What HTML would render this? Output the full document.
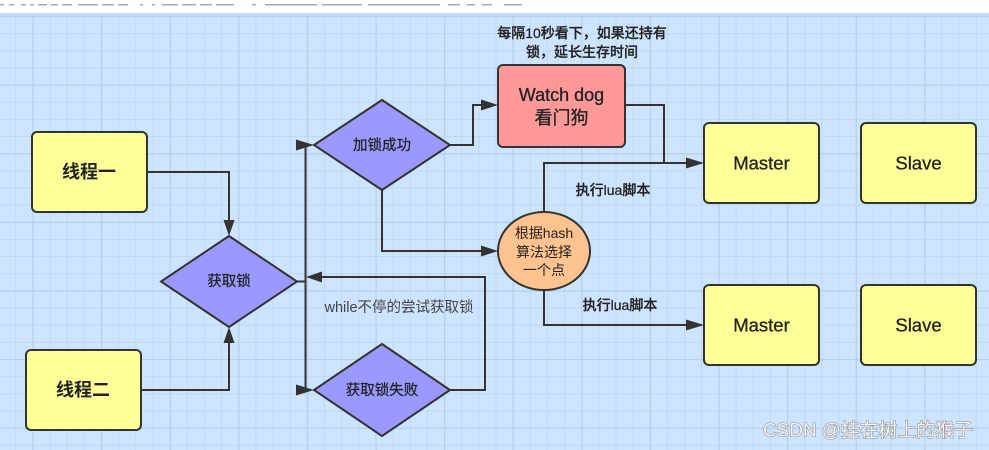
<!DOCTYPE html>
<html>
<head>
<meta charset="utf-8">
<style>
html,body{margin:0;padding:0;width:989px;height:450px;overflow:hidden;background:#fff;}
svg{display:block;}
text{font-family:"Liberation Sans","Noto Sans CJK SC",sans-serif;}
</style>
</head>
<body>
<svg width="989" height="450" viewBox="0 0 989 450" xmlns="http://www.w3.org/2000/svg">
  <defs>
    <pattern id="minor" x="15.3" y="16" width="17.15" height="17.15" patternUnits="userSpaceOnUse">
      <rect x="0" y="0" width="17.15" height="1" fill="#bfd7f2"/>
      <rect x="0" y="0" width="1" height="17.15" fill="#bfd7f2"/>
    </pattern>
    <pattern id="major" x="32.45" y="16" width="68.6" height="68.6" patternUnits="userSpaceOnUse">
      <rect x="0" y="0" width="68.6" height="1.2" fill="#b6cfec"/>
      <rect x="0" y="0" width="1.2" height="68.6" fill="#b6cfec"/>
    </pattern>
  </defs>

  <!-- top white strip with faint cut-off text -->
  <rect x="0" y="0" width="989" height="13" fill="#ffffff"/>
  <g fill="#aaaaaa">
    <rect x="0" y="4" width="4" height="1.5"/><rect x="9" y="4" width="5" height="1.5"/>
    <rect x="21" y="4" width="5" height="1.5"/><rect x="30" y="4" width="4" height="1.5"/>
    <rect x="38" y="4" width="9" height="1.5"/><rect x="51" y="4" width="7" height="1.5"/>
    <rect x="62" y="4" width="10" height="1.5"/><rect x="78" y="4" width="20" height="1.5"/>
    <rect x="102" y="4" width="12" height="1.5"/><rect x="118" y="4" width="10" height="1.5"/>
    <rect x="140" y="4" width="3" height="1.5"/><rect x="152" y="4" width="3" height="1.5"/>
    <rect x="162" y="4" width="16" height="1.5"/><rect x="182" y="4" width="14" height="1.5"/>
    <rect x="200" y="4" width="12" height="1.5"/><rect x="216" y="4" width="18" height="1.5"/>
    <rect x="252" y="4" width="4" height="1.5"/><rect x="265" y="4" width="52" height="1.5"/>
    <rect x="322" y="4" width="40" height="1.5"/><rect x="368" y="4" width="72" height="1.5"/>
    <rect x="448" y="4" width="12" height="1.5"/><rect x="467" y="4" width="8" height="1.5"/>
    <rect x="482" y="4" width="10" height="1.5"/><rect x="504" y="4" width="18" height="1.5"/>
  </g>
  <!-- border band -->
  <rect x="0" y="13" width="989" height="3" fill="#c3dbf5"/>
  <!-- grid area -->
  <rect x="0" y="16" width="989" height="434" fill="#cde4fe"/>
  <rect x="0" y="16" width="989" height="434" fill="url(#minor)"/>
  <rect x="0" y="16" width="989" height="434" fill="url(#major)"/>

  <!-- connectors -->
  <g fill="none" stroke="#333" stroke-width="2" stroke-linejoin="miter">
    <path d="M147,172 H229 V222"/>
    <path d="M141,390 H229 V341"/>
    <path d="M297,281.5 H305.5"/>
    <path d="M305.5,145 V390"/>
    <path d="M450,390 H485 V277 H320"/>
    <path d="M450,145 H473 V105 H484"/>
    <path d="M382,190 V251 H484"/>
    <path d="M625,105 H664 V163 H690"/>
    <path d="M544,212 V163 H664"/>
    <path d="M544,290 V325 H690"/>
  </g>
  <!-- arrowheads -->
  <g fill="#333">
    <polygon points="223.5,220 234.5,220 229,236"/>
    <polygon points="223.5,343 234.5,343 229,327"/>
    <polygon points="296,139.5 314,145 296,150.5"/>
    <polygon points="296,384.5 314,390 296,395.5"/>
    <polygon points="322,271.5 306,277 322,282.5"/>
    <polygon points="481,99.5 498,105 481,110.5"/>
    <polygon points="481,245.5 498,251 481,256.5"/>
    <polygon points="686,157.5 704,163 686,168.5"/>
    <polygon points="686,319.5 704,325 686,330.5"/>
  </g>

  <!-- 线程一 / 线程二 -->
  <rect x="32" y="132" width="115" height="80" rx="5" fill="#ffff99" stroke="#333" stroke-width="2"/>
  <text x="89" y="172" font-size="18" font-weight="bold" fill="#222" text-anchor="middle" dominant-baseline="central">线程一</text>
  <rect x="26" y="350" width="115" height="80" rx="5" fill="#ffff99" stroke="#333" stroke-width="2"/>
  <text x="83" y="390" font-size="18" font-weight="bold" fill="#222" text-anchor="middle" dominant-baseline="central">线程二</text>

  <!-- diamonds -->
  <polygon points="229,236 297,281.5 229,327 161,281.5" fill="#9999ff" stroke="#333" stroke-width="2"/>
  <text x="229" y="282" font-size="14.5" fill="#222" stroke="#222" stroke-width="0.25" text-anchor="middle" dominant-baseline="central">获取锁</text>
  <polygon points="382,100 450,145 382,190 314,145" fill="#9999ff" stroke="#333" stroke-width="2"/>
  <text x="382" y="146" font-size="14.5" fill="#222" stroke="#222" stroke-width="0.25" text-anchor="middle" dominant-baseline="central">加锁成功</text>
  <polygon points="382,344 450,390 382,436 314,390" fill="#9999ff" stroke="#333" stroke-width="2"/>
  <text x="382" y="391" font-size="14.5" fill="#222" stroke="#222" stroke-width="0.25" text-anchor="middle" dominant-baseline="central">获取锁失败</text>

  <!-- while label -->
  <text x="399" y="308" font-size="14.5" fill="#444" text-anchor="middle" dominant-baseline="central">while不停的尝试获取锁</text>

  <!-- watch dog -->
  <text x="582" y="33" font-size="14" font-weight="500" fill="#222" stroke="#222" stroke-width="0.25" text-anchor="middle" dominant-baseline="central">每隔10秒看下，如果还持有</text>
  <text x="582" y="52" font-size="14" font-weight="500" fill="#222" stroke="#222" stroke-width="0.25" text-anchor="middle" dominant-baseline="central">锁，延长生存时间</text>
  <rect x="498" y="65" width="127" height="82" rx="5" fill="#ff9999" stroke="#333" stroke-width="2"/>
  <text x="561.5" y="95" font-size="18" fill="#222" stroke="#222" stroke-width="0.3" text-anchor="middle" dominant-baseline="central">Watch dog</text>
  <text x="561.5" y="118" font-size="18" fill="#222" stroke="#222" stroke-width="0.3" text-anchor="middle" dominant-baseline="central">看门狗</text>

  <!-- ellipse -->
  <ellipse cx="544" cy="251" rx="46" ry="39" fill="#ffc38f" stroke="#333" stroke-width="2"/>
  <text x="544" y="233" font-size="14" fill="#222" text-anchor="middle" dominant-baseline="central">根据hash</text>
  <text x="544" y="252" font-size="14" fill="#222" text-anchor="middle" dominant-baseline="central">算法选择</text>
  <text x="544" y="270" font-size="14" fill="#222" text-anchor="middle" dominant-baseline="central">一个点</text>

  <!-- lua labels -->
  <text x="613" y="190" font-size="14" font-weight="500" fill="#222" stroke="#222" stroke-width="0.25" text-anchor="middle" dominant-baseline="central">执行lua脚本</text>
  <text x="620" y="305" font-size="14" font-weight="500" fill="#222" stroke="#222" stroke-width="0.25" text-anchor="middle" dominant-baseline="central">执行lua脚本</text>

  <!-- Master / Slave -->
  <rect x="704" y="123" width="115" height="80" rx="5" fill="#ffff99" stroke="#333" stroke-width="2"/>
  <text x="761.5" y="163" font-size="18.5" fill="#222" stroke="#222" stroke-width="0.3" text-anchor="middle" dominant-baseline="central">Master</text>
  <rect x="861" y="123" width="115" height="80" rx="5" fill="#ffff99" stroke="#333" stroke-width="2"/>
  <text x="918.5" y="163" font-size="18.5" fill="#222" stroke="#222" stroke-width="0.3" text-anchor="middle" dominant-baseline="central">Slave</text>
  <rect x="704" y="285" width="115" height="80" rx="5" fill="#ffff99" stroke="#333" stroke-width="2"/>
  <text x="761.5" y="325" font-size="18.5" fill="#222" stroke="#222" stroke-width="0.3" text-anchor="middle" dominant-baseline="central">Master</text>
  <rect x="861" y="285" width="115" height="80" rx="5" fill="#ffff99" stroke="#333" stroke-width="2"/>
  <text x="918.5" y="325" font-size="18.5" fill="#222" stroke="#222" stroke-width="0.3" text-anchor="middle" dominant-baseline="central">Slave</text>

  <!-- watermark -->
  <text x="763" y="431" font-size="19" fill="#f4f4f4" stroke="#8c8c8c" stroke-width="1.1" paint-order="stroke" dominant-baseline="central" textLength="210" lengthAdjust="spacingAndGlyphs">CSDN @挂在树上的猴子</text>
</svg>
</body>
</html>
